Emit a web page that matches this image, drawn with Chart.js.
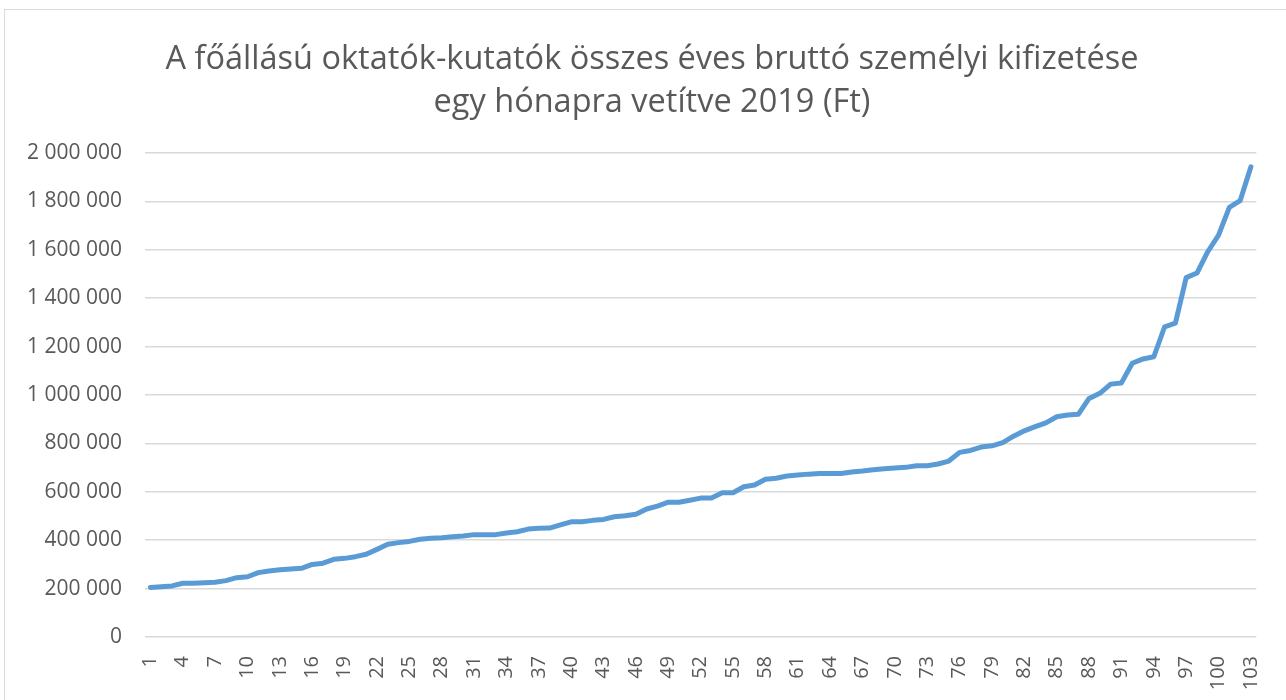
<!DOCTYPE html>
<html>
<head>
<meta charset="utf-8">
<script src="https://cdn.jsdelivr.net/npm/chart.js@4/dist/chart.umd.min.js"></script>
<style>
    html, body { margin: 0; padding: 0; background: #fff; overflow: hidden; }
    #frame { position: absolute; left: 4px; top: 9px; width: 1300px; height: 720px; border: 1px solid #d9d9d9; }
    #wrap { position: absolute; left: 0; top: 0; width: 1286px; height: 700px; }
</style>
</head>
<body>
<div id="frame"></div>
<div id="wrap"><canvas id="chart" width="1286" height="700"></canvas></div>
<script>
// Chart title (two lines, as in the original)
const titleLines = [
    'A főállású oktatók-kutatók összes éves bruttó személyi kifizetése',
    'egy hónapra vetítve 2019 (Ft)'
];

// Categories: staff members ranked by payment
const categories = [
    1, 2, 3, 4, 5, 6, 7, 8, 9, 10, 11, 12, 13, 14, 15, 16, 17, 18, 19, 20,
    21, 22, 23, 24, 25, 26, 27, 28, 29, 30, 31, 32, 33, 34, 35, 36, 37, 38, 39, 40,
    41, 42, 43, 44, 45, 46, 47, 48, 49, 50, 51, 52, 53, 54, 55, 56, 57, 58, 59, 60,
    61, 62, 63, 64, 65, 66, 67, 68, 69, 70, 71, 72, 73, 74, 75, 76, 77, 78, 79, 80,
    81, 82, 83, 84, 85, 86, 87, 88, 89, 90, 91, 92, 93, 94, 95, 96, 97, 98, 99, 100,
    101, 102, 103
];

// Monthly gross payment (Ft)
const payments = [
    205000, 208000, 211000, 222000, 222000, 224000, 226000, 233000, 245000, 249000,
    266000, 273000, 278000, 281000, 284000, 300000, 305000, 321000, 325000, 332000,
    342000, 362000, 383000, 390000, 395000, 404000, 408000, 410000, 414000, 417000,
    423000, 423000, 423000, 430000, 435000, 446000, 449000, 450000, 463000, 476000,
    476000, 482000, 486000, 497000, 501000, 507000, 529000, 541000, 557000, 557000,
    565000, 574000, 574000, 596000, 596000, 621000, 628000, 652000, 656000, 665000,
    669000, 673000, 676000, 676000, 676000, 682000, 686000, 691000, 695000, 698000,
    701000, 708000, 708000, 715000, 727000, 763000, 771000, 785000, 790000, 803000,
    830000, 852000, 869000, 885000, 910000, 917000, 920000, 986000, 1007000, 1045000,
    1050000, 1131000, 1149000, 1158000, 1282000, 1297000, 1485000, 1504000, 1592000, 1661000,
    1775000, 1803000, 1943000
];

// Y axis tick values and the x labels that are actually shown
const yTicks = [0, 200000, 400000, 600000, 800000, 1000000, 1200000, 1400000, 1600000, 1800000, 2000000];
const shownXLabels = [1, 4, 7, 10, 13, 16, 19, 22, 25, 28, 31, 34, 37, 40, 43, 46, 49, 52, 55, 58,
    61, 64, 67, 70, 73, 76, 79, 82, 85, 88, 91, 94, 97, 100, 103];

const textColor = '#595959';
const gridColor = '#d9d9d9';
const fontFamily = "'Open Sans', sans-serif";

function formatFt(value) {
    return String(value).replace(/\B(?=(\d{3})+(?!\d))/g, ' ');
}

// the original title sits a bit right of the canvas centre
const shiftTitle = {
    id: 'shiftTitle',
    afterLayout(chart) {
        if (chart.titleBlock) chart.titleBlock.left += 34;
    }
};

const ctx = document.getElementById('chart').getContext('2d');

new Chart(ctx, {
    type: 'line',
    data: {
        labels: categories,
        datasets: [{
            label: 'Kifizetés',
            data: payments,
            borderColor: '#5b9bd5',
            borderWidth: 5,
            borderJoinStyle: 'round',
            borderCapStyle: 'round',
            pointRadius: 0,
            tension: 0,
            fill: false
        }]
    },
    options: {
        responsive: false,
        animation: false,
        devicePixelRatio: 1,
        layout: {
            padding: { left: 0, right: 16, top: 0, bottom: 0 }
        },
        plugins: {
            legend: { display: false },
            tooltip: { enabled: false },
            title: {
                display: true,
                text: titleLines,
                color: textColor,
                font: { family: fontFamily, size: 32.5, weight: 'normal', lineHeight: 1.3 },
                padding: { top: 39, bottom: 29.5 }
            }
        },
        scales: {
            x: {
                type: 'category',
                offset: true,
                grid: { display: false },
                border: { display: false },
                ticks: {
                    autoSkip: false,
                    maxRotation: 90,
                    minRotation: 90,
                    padding: 11,
                    color: textColor,
                    font: { family: fontFamily, size: 20 },
                    callback: (value, index) => shownXLabels.includes(categories[index]) ? String(categories[index]) : ''
                },
                afterFit: scale => { scale.height = 63; }
            },
            y: {
                min: 0,
                max: 2000000,
                grid: { color: gridColor, lineWidth: 1.5, drawTicks: false },
                border: { display: false },
                ticks: {
                    padding: 23,
                    color: textColor,
                    font: { family: fontFamily, size: 21 },
                    callback: value => formatFt(value)
                },
                afterBuildTicks: scale => {
                    scale.ticks = yTicks.map(v => ({ value: v }));
                },
                afterFit: scale => { scale.width = 145; }
            }
        }
    },
    plugins: [shiftTitle]
});
</script>
</body>
</html>
